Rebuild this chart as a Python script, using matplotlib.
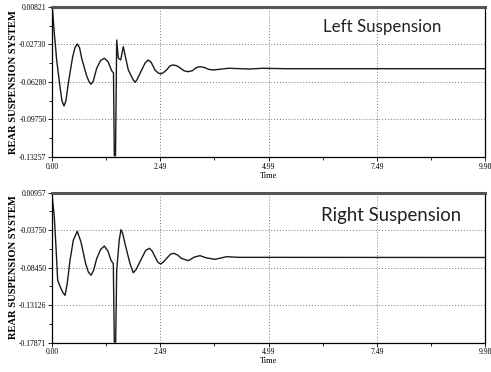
import numpy as np
import matplotlib
matplotlib.use("Agg")
import matplotlib.pyplot as plt
from matplotlib.ticker import FixedLocator

# time axis
T_MAX = 9.98
xticks = [0.00, 2.49, 4.99, 7.49, 9.98]
xtick_labels = ["0.00", "2.49", "4.99", "7.49", "9.98"]

# left suspension
t_left = [0.000, 0.007, 0.053, 0.108, 0.184, 0.230, 0.277, 0.320, 0.376, 0.477,
          0.530, 0.583, 0.635, 0.684, 0.800, 0.850, 0.899, 0.950, 1.030, 1.120,
          1.205, 1.290, 1.376, 1.417, 1.436, 1.464, 1.491, 1.528, 1.583, 1.643,
          1.700, 1.759, 1.874, 1.913, 1.960, 2.067, 2.150, 2.220, 2.290, 2.374,
          2.440, 2.505, 2.580, 2.650, 2.720, 2.796, 2.880, 2.970, 3.050, 3.141,
          3.240, 3.320, 3.411, 3.520, 3.620, 3.718, 3.850, 4.063, 4.563, 4.840,
          5.370, 9.980]
v_left = [0.0070, 0.0078, -0.0162, -0.0415, -0.0666, -0.0800, -0.0847, -0.0800, -0.0634, -0.0384,
          -0.0300, -0.0265, -0.0300, -0.0399, -0.0566, -0.0615, -0.0643, -0.0615, -0.0493, -0.0420,
          -0.0399, -0.0430, -0.0516, -0.0537, -0.1314, -0.1314, -0.0228, -0.0397, -0.0415, -0.0291,
          -0.0400, -0.0509, -0.0603, -0.0625, -0.0600, -0.0509, -0.0440, -0.0415, -0.0440, -0.0509,
          -0.0535, -0.0547, -0.0530, -0.0505, -0.0470, -0.0462, -0.0470, -0.0495, -0.0518, -0.0525,
          -0.0515, -0.0488, -0.0478, -0.0487, -0.0504, -0.0509, -0.0503, -0.0493, -0.0500, -0.0493,
          -0.0497, -0.0497]
left_ylim = (-0.13257, 0.00821)
left_labels = ["0.00821", "-0.02730", "-0.06280", "-0.09750", "-0.13257"]

# right suspension
t_right = [0.000, 0.053, 0.092, 0.131, 0.184, 0.250, 0.300, 0.350, 0.415, 0.491,
           0.583, 0.668, 0.776, 0.840, 0.899, 0.960, 1.030, 1.120, 1.205, 1.290,
           1.360, 1.413, 1.436, 1.468, 1.491, 1.550, 1.590, 1.630, 1.683, 1.798,
           1.874, 1.940, 2.067, 2.160, 2.243, 2.310, 2.374, 2.440, 2.505, 2.580,
           2.660, 2.740, 2.812, 2.900, 2.980, 3.141, 3.280, 3.411, 3.560, 3.757,
           4.026, 4.295, 9.980]
v_right = [0.0073, -0.0212, -0.0588, -0.1006, -0.1082, -0.1160, -0.1195, -0.1050, -0.0755, -0.0504,
           -0.0391, -0.0526, -0.0798, -0.0905, -0.0943, -0.0880, -0.0735, -0.0620, -0.0576, -0.0640,
           -0.0755, -0.0798, -0.1781, -0.1781, -0.0880, -0.0500, -0.0371, -0.0420, -0.0547, -0.0798,
           -0.0911, -0.0870, -0.0730, -0.0630, -0.0605, -0.0640, -0.0710, -0.0780, -0.0802, -0.0770,
           -0.0720, -0.0675, -0.0668, -0.0690, -0.0730, -0.0760, -0.0715, -0.0697, -0.0725, -0.0743,
           -0.0710, -0.0718, -0.0720]
right_ylim = (-0.17871, 0.00957)
right_labels = ["0.00957", "-0.03750", "-0.08450", "-0.13126", "-0.17871"]

fig = plt.figure(figsize=(4.91, 3.72), dpi=100)
ax1 = fig.add_axes([0.1059, 0.578, 0.8819, 0.4032])
ax2 = fig.add_axes([0.1059, 0.0793, 0.8819, 0.4032])

tick_font = dict(family="Liberation Serif", size=5.5)


def setup(ax, t, v, ylim, ylabels, title, tx, ty, tsize):
    ax.plot(t, v, color="#1a1a1a", lw=1.0)
    ax.set_xlim(0, T_MAX)
    ax.set_ylim(*ylim)
    yt = np.linspace(ylim[1], ylim[0], 5)
    ax.set_yticks(yt)
    ax.set_yticklabels(ylabels, **tick_font)
    ax.set_xticks(xticks)
    ax.set_xticklabels(xtick_labels, **tick_font)
    ax.xaxis.set_minor_locator(FixedLocator([(a + b) / 2 for a, b in zip(xticks[:-1], xticks[1:])]))
    ax.yaxis.set_minor_locator(FixedLocator([(a + b) / 2 for a, b in zip(yt[:-1], yt[1:])]))
    ax.tick_params(which="major", length=3, width=0.6, pad=1, direction="out")
    ax.tick_params(which="minor", length=2, width=0.6, direction="out")
    ax.grid(True, which="major", ls=(0, (1, 2)), color="#777777", lw=0.7)
    for s in ["left", "bottom", "right"]:
        ax.spines[s].set_linewidth(0.9)
        ax.spines[s].set_color("black")
    ax.spines["top"].set_linewidth(2.2)
    ax.spines["top"].set_color("#555555")
    ax.set_xlabel("Time", family="Liberation Serif", size=6, labelpad=1)
    ax.set_ylabel("REAR SUSPENSION SYSTEM", family="Liberation Serif", size=7.6,
                  weight="bold", labelpad=1)
    ax.text(tx, ty, title, transform=ax.transAxes, ha="center", va="center",
            family="Lato", size=tsize, color="#222222")


setup(ax1, t_left, v_left, left_ylim, left_labels, "Left Suspension", 0.762, 0.867, 12.2)
setup(ax2, t_right, v_right, right_ylim, right_labels, "Right Suspension", 0.783, 0.85, 13.4)

fig.savefig("out.png", dpi=100)
